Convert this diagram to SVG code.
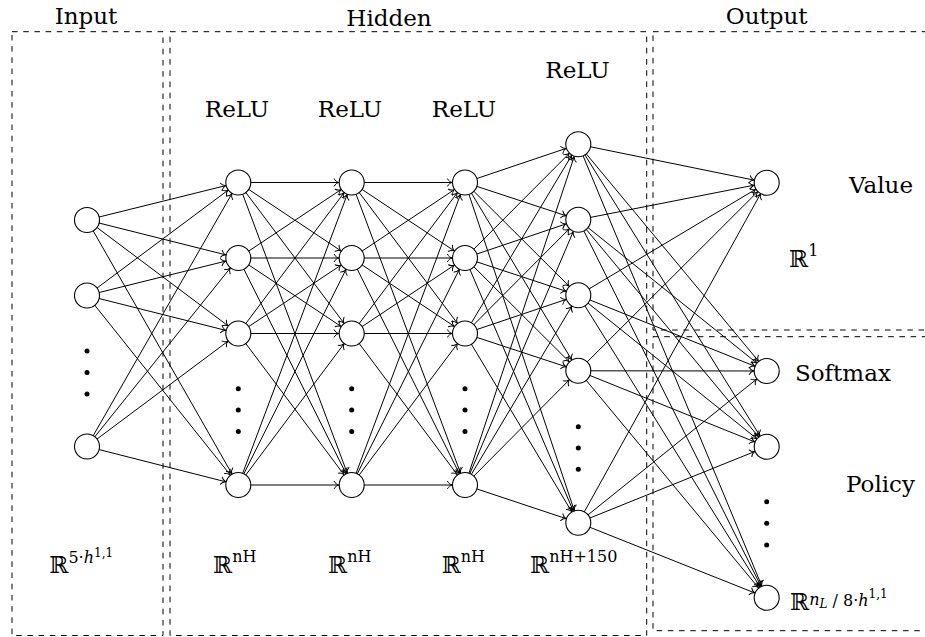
<svg xmlns="http://www.w3.org/2000/svg" width="925" height="637" viewBox="0 0 925 637">
<style>
.lbl{font-family:'DejaVu Serif','Liberation Serif',serif;font-size:23px;fill:#000}
.box{fill:none;stroke:#000;stroke-width:1;stroke-dasharray:5.6 5.6}
.n{fill:#fff;stroke:#000;stroke-width:1.1}
.dot{fill:#000}
.e{stroke:#000;stroke-width:1;marker-end:url(#arr)}
.sup{font-size:16px}
.sup2{font-size:12px}
</style>
<defs>
<marker id="arr" markerUnits="userSpaceOnUse" orient="auto" refX="0" refY="0" markerWidth="40" markerHeight="40" viewBox="-20 -20 40 40" overflow="visible">
<path d="M-17.5,-3.6 C-16.6,-1.6 -14.3,-0.4 -13,0 C-14.3,0.4 -16.6,1.6 -17.5,3.6" fill="none" stroke="#000" stroke-width="1" stroke-linecap="round"/>
</marker>
</defs>
<g id="boxes">
<rect class="box" x="12" y="31.7" width="151" height="603.8"/>
<rect class="box" x="170" y="31.7" width="476.7" height="603.8"/>
<rect class="box" x="653" y="31.7" width="300" height="298.3"/>
<rect class="box" x="653" y="336.7" width="300" height="294"/>
</g>
<g id="connectors">
<line class="e" x1="87" y1="220" x2="238.3" y2="182.5"/>
<line class="e" x1="87" y1="220" x2="238.3" y2="258"/>
<line class="e" x1="87" y1="220" x2="238.3" y2="333.5"/>
<line class="e" x1="87" y1="220" x2="238.3" y2="485"/>
<line class="e" x1="87" y1="295.5" x2="238.3" y2="182.5"/>
<line class="e" x1="87" y1="295.5" x2="238.3" y2="258"/>
<line class="e" x1="87" y1="295.5" x2="238.3" y2="333.5"/>
<line class="e" x1="87" y1="295.5" x2="238.3" y2="485"/>
<line class="e" x1="87" y1="446.5" x2="238.3" y2="182.5"/>
<line class="e" x1="87" y1="446.5" x2="238.3" y2="258"/>
<line class="e" x1="87" y1="446.5" x2="238.3" y2="333.5"/>
<line class="e" x1="87" y1="446.5" x2="238.3" y2="485"/>

<line class="e" x1="238.3" y1="182.5" x2="351.7" y2="182.5"/>
<line class="e" x1="238.3" y1="182.5" x2="351.7" y2="258"/>
<line class="e" x1="238.3" y1="182.5" x2="351.7" y2="333.5"/>
<line class="e" x1="238.3" y1="182.5" x2="351.7" y2="485"/>
<line class="e" x1="238.3" y1="258" x2="351.7" y2="182.5"/>
<line class="e" x1="238.3" y1="258" x2="351.7" y2="258"/>
<line class="e" x1="238.3" y1="258" x2="351.7" y2="333.5"/>
<line class="e" x1="238.3" y1="258" x2="351.7" y2="485"/>
<line class="e" x1="238.3" y1="333.5" x2="351.7" y2="182.5"/>
<line class="e" x1="238.3" y1="333.5" x2="351.7" y2="258"/>
<line class="e" x1="238.3" y1="333.5" x2="351.7" y2="333.5"/>
<line class="e" x1="238.3" y1="333.5" x2="351.7" y2="485"/>
<line class="e" x1="238.3" y1="485" x2="351.7" y2="182.5"/>
<line class="e" x1="238.3" y1="485" x2="351.7" y2="258"/>
<line class="e" x1="238.3" y1="485" x2="351.7" y2="333.5"/>
<line class="e" x1="238.3" y1="485" x2="351.7" y2="485"/>

<line class="e" x1="351.7" y1="182.5" x2="465" y2="182.5"/>
<line class="e" x1="351.7" y1="182.5" x2="465" y2="258"/>
<line class="e" x1="351.7" y1="182.5" x2="465" y2="333.5"/>
<line class="e" x1="351.7" y1="182.5" x2="465" y2="485"/>
<line class="e" x1="351.7" y1="258" x2="465" y2="182.5"/>
<line class="e" x1="351.7" y1="258" x2="465" y2="258"/>
<line class="e" x1="351.7" y1="258" x2="465" y2="333.5"/>
<line class="e" x1="351.7" y1="258" x2="465" y2="485"/>
<line class="e" x1="351.7" y1="333.5" x2="465" y2="182.5"/>
<line class="e" x1="351.7" y1="333.5" x2="465" y2="258"/>
<line class="e" x1="351.7" y1="333.5" x2="465" y2="333.5"/>
<line class="e" x1="351.7" y1="333.5" x2="465" y2="485"/>
<line class="e" x1="351.7" y1="485" x2="465" y2="182.5"/>
<line class="e" x1="351.7" y1="485" x2="465" y2="258"/>
<line class="e" x1="351.7" y1="485" x2="465" y2="333.5"/>
<line class="e" x1="351.7" y1="485" x2="465" y2="485"/>

<line class="e" x1="465" y1="182.5" x2="578.3" y2="144.3"/>
<line class="e" x1="465" y1="182.5" x2="578.3" y2="219.8"/>
<line class="e" x1="465" y1="182.5" x2="578.3" y2="295.3"/>
<line class="e" x1="465" y1="182.5" x2="578.3" y2="370.8"/>
<line class="e" x1="465" y1="182.5" x2="578.3" y2="522.7"/>
<line class="e" x1="465" y1="258" x2="578.3" y2="144.3"/>
<line class="e" x1="465" y1="258" x2="578.3" y2="219.8"/>
<line class="e" x1="465" y1="258" x2="578.3" y2="295.3"/>
<line class="e" x1="465" y1="258" x2="578.3" y2="370.8"/>
<line class="e" x1="465" y1="258" x2="578.3" y2="522.7"/>
<line class="e" x1="465" y1="333.5" x2="578.3" y2="144.3"/>
<line class="e" x1="465" y1="333.5" x2="578.3" y2="219.8"/>
<line class="e" x1="465" y1="333.5" x2="578.3" y2="295.3"/>
<line class="e" x1="465" y1="333.5" x2="578.3" y2="370.8"/>
<line class="e" x1="465" y1="333.5" x2="578.3" y2="522.7"/>
<line class="e" x1="465" y1="485" x2="578.3" y2="144.3"/>
<line class="e" x1="465" y1="485" x2="578.3" y2="219.8"/>
<line class="e" x1="465" y1="485" x2="578.3" y2="295.3"/>
<line class="e" x1="465" y1="485" x2="578.3" y2="370.8"/>
<line class="e" x1="465" y1="485" x2="578.3" y2="522.7"/>

<line class="e" x1="578.3" y1="144.3" x2="766.7" y2="182.7"/>
<line class="e" x1="578.3" y1="144.3" x2="766.7" y2="371"/>
<line class="e" x1="578.3" y1="144.3" x2="766.7" y2="446.7"/>
<line class="e" x1="578.3" y1="144.3" x2="766.7" y2="597.7"/>
<line class="e" x1="578.3" y1="219.8" x2="766.7" y2="182.7"/>
<line class="e" x1="578.3" y1="219.8" x2="766.7" y2="371"/>
<line class="e" x1="578.3" y1="219.8" x2="766.7" y2="446.7"/>
<line class="e" x1="578.3" y1="219.8" x2="766.7" y2="597.7"/>
<line class="e" x1="578.3" y1="295.3" x2="766.7" y2="182.7"/>
<line class="e" x1="578.3" y1="295.3" x2="766.7" y2="371"/>
<line class="e" x1="578.3" y1="295.3" x2="766.7" y2="446.7"/>
<line class="e" x1="578.3" y1="295.3" x2="766.7" y2="597.7"/>
<line class="e" x1="578.3" y1="370.8" x2="766.7" y2="182.7"/>
<line class="e" x1="578.3" y1="370.8" x2="766.7" y2="371"/>
<line class="e" x1="578.3" y1="370.8" x2="766.7" y2="446.7"/>
<line class="e" x1="578.3" y1="370.8" x2="766.7" y2="597.7"/>
<line class="e" x1="578.3" y1="522.7" x2="766.7" y2="182.7"/>
<line class="e" x1="578.3" y1="522.7" x2="766.7" y2="371"/>
<line class="e" x1="578.3" y1="522.7" x2="766.7" y2="446.7"/>
<line class="e" x1="578.3" y1="522.7" x2="766.7" y2="597.7"/>
</g>
<g id="input-layer">
<circle class="n" cx="87" cy="220" r="12.5"/>
<circle class="n" cx="87" cy="295.5" r="12.5"/>
<circle class="dot" cx="87" cy="351" r="2.5"/>
<circle class="dot" cx="87" cy="372.5" r="2.5"/>
<circle class="dot" cx="87" cy="394" r="2.5"/>
<circle class="n" cx="87" cy="446.5" r="12.5"/>
</g>
<g id="hidden-layer-1">
<circle class="n" cx="238.3" cy="182.5" r="12.5"/>
<circle class="n" cx="238.3" cy="258" r="12.5"/>
<circle class="n" cx="238.3" cy="333.5" r="12.5"/>
<circle class="dot" cx="238.3" cy="388.7" r="2.5"/>
<circle class="dot" cx="238.3" cy="410" r="2.5"/>
<circle class="dot" cx="238.3" cy="431.5" r="2.5"/>
<circle class="n" cx="238.3" cy="485" r="12.5"/>
</g>
<g id="hidden-layer-2">
<circle class="n" cx="351.7" cy="182.5" r="12.5"/>
<circle class="n" cx="351.7" cy="258" r="12.5"/>
<circle class="n" cx="351.7" cy="333.5" r="12.5"/>
<circle class="dot" cx="351.7" cy="388.7" r="2.5"/>
<circle class="dot" cx="351.7" cy="410" r="2.5"/>
<circle class="dot" cx="351.7" cy="431.5" r="2.5"/>
<circle class="n" cx="351.7" cy="485" r="12.5"/>
</g>
<g id="hidden-layer-3">
<circle class="n" cx="465" cy="182.5" r="12.5"/>
<circle class="n" cx="465" cy="258" r="12.5"/>
<circle class="n" cx="465" cy="333.5" r="12.5"/>
<circle class="dot" cx="465" cy="388.7" r="2.5"/>
<circle class="dot" cx="465" cy="410" r="2.5"/>
<circle class="dot" cx="465" cy="431.5" r="2.5"/>
<circle class="n" cx="465" cy="485" r="12.5"/>
</g>
<g id="hidden-layer-4">
<circle class="n" cx="578.3" cy="144.3" r="12.5"/>
<circle class="n" cx="578.3" cy="219.8" r="12.5"/>
<circle class="n" cx="578.3" cy="295.3" r="12.5"/>
<circle class="n" cx="578.3" cy="370.8" r="12.5"/>
<circle class="dot" cx="578.3" cy="426.7" r="2.5"/>
<circle class="dot" cx="578.3" cy="448" r="2.5"/>
<circle class="dot" cx="578.3" cy="469.3" r="2.5"/>
<circle class="n" cx="578.3" cy="522.7" r="12.5"/>
</g>
<g id="output-value">
<circle class="n" cx="766.7" cy="182.7" r="12.5"/>
</g>
<g id="output-policy">
<circle class="n" cx="766.7" cy="371" r="12.5"/>
<circle class="n" cx="766.7" cy="446.7" r="12.5"/>
<circle class="dot" cx="766.7" cy="501.7" r="2.5"/>
<circle class="dot" cx="766.7" cy="523.3" r="2.5"/>
<circle class="dot" cx="766.7" cy="545" r="2.5"/>
<circle class="n" cx="766.7" cy="597.7" r="12.5"/>
</g>
<g id="labels">
<text class="lbl" x="86" y="23.5" text-anchor="middle">Input</text>
<text class="lbl" x="389" y="26" text-anchor="middle">Hidden</text>
<text class="lbl" x="766.7" y="23.5" text-anchor="middle">Output</text>
<text class="lbl" x="237" y="116.7" text-anchor="middle">ReLU</text>
<text class="lbl" x="350" y="116.7" text-anchor="middle">ReLU</text>
<text class="lbl" x="464" y="116.7" text-anchor="middle">ReLU</text>
<text class="lbl" x="577.5" y="78.3" text-anchor="middle">ReLU</text>
<text class="lbl" x="881" y="192.7" text-anchor="middle">Value</text>
<text class="lbl" x="789" y="267.3">ℝ<tspan class="sup" dy="-11">1</tspan></text>
<text class="lbl" x="795" y="381">Softmax</text>
<text class="lbl" x="880.5" y="491.7" text-anchor="middle">Policy</text>
<text class="lbl" x="49.3" y="573.3">ℝ<tspan class="sup" dy="-10">5·</tspan><tspan class="sup" font-style="italic">h</tspan><tspan class="sup2" dy="-6.5">1,1</tspan></text>
<text class="lbl" x="213" y="573.3">ℝ<tspan class="sup" dy="-11.5">nH</tspan></text>
<text class="lbl" x="328" y="573.3">ℝ<tspan class="sup" dy="-11.5">nH</tspan></text>
<text class="lbl" x="441.7" y="573.3">ℝ<tspan class="sup" dy="-11.5">nH</tspan></text>
<text class="lbl" x="530" y="573.3">ℝ<tspan class="sup" dy="-11.5">nH+150</tspan></text>
<text class="lbl" x="790" y="610">ℝ<tspan class="sup" dy="-5.5" font-style="italic">n</tspan><tspan class="sup2" dy="3" font-style="italic">L</tspan><tspan class="sup" dy="-2"> / 8·</tspan><tspan class="sup" font-style="italic">h</tspan><tspan class="sup2" dy="-7.5">1,1</tspan></text>
</g>
</svg>
